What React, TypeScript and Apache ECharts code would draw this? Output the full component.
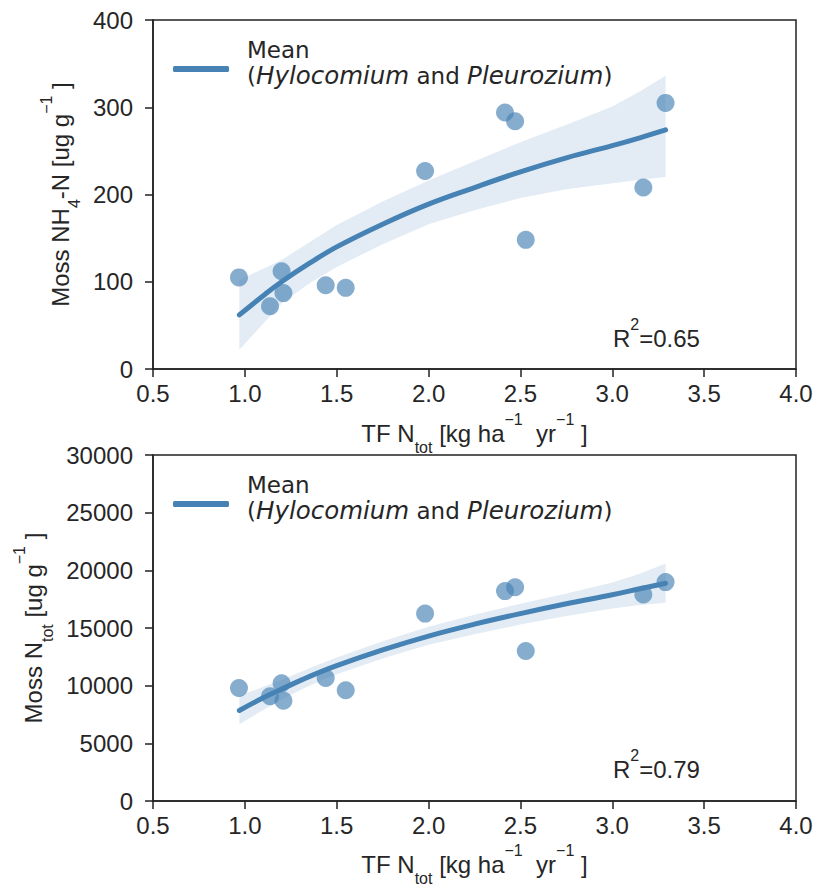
import React, { useEffect, useRef } from "react";
import * as echarts from "echarts";

// Measured data (same TF N_tot x values for both panels)
const tfNtot = [0.968, 1.137, 1.2, 1.21, 1.44, 1.549, 1.981, 2.416, 2.471, 2.529, 3.169, 3.29];
const mossNH4 = [105, 72, 112, 87, 96, 93, 227, 294, 284, 148, 208, 305];
const mossNtot = [9800, 9080, 10200, 8700, 10660, 9600, 16250, 18200, 18540, 13000, 17910, 18980];

// Fitted mean curves and confidence bands
const fitX = [0.97, 1.1, 1.2, 1.35, 1.5, 1.75, 2.0, 2.25, 2.5, 2.75, 3.0, 3.15, 3.29];
const fitNH4 = [62, 84, 100, 121, 140, 166, 189, 208, 226, 242, 256, 265, 274];
const upperNH4 = [102, 115, 125, 145, 165, 192, 216, 238, 260, 280, 301, 318, 336];
const lowerNH4 = [22, 52, 75, 98, 117, 143, 166, 182, 196, 206, 213, 217, 220];
const fitNtot = [7850, 8950, 9700, 10780, 11730, 13100, 14300, 15330, 16250, 17100, 17880, 18400, 18880];
const upperNtot = [9100, 9900, 10500, 11500, 12450, 13850, 15100, 16150, 17100, 18000, 18950, 19700, 20600];
const lowerNtot = [6650, 7900, 8800, 10000, 11000, 12350, 13550, 14450, 15300, 16050, 16700, 17000, 17200];

const r2Top = "0.65";
const r2Bottom = "0.79";

const LINE = "#4682b4";
const DOT = "rgba(70,130,180,0.82)";
const BAND = "rgba(70,130,180,0.15)";
const INK = "#262626";
const AXIS = "#222";
const SANS = "'Liberation Sans', Arial, sans-serif";
const DEJAVU = "'DejaVu Sans', sans-serif";

const richSubSup = {
  sub: { fontSize: 16, lineHeight: 30, verticalAlign: "bottom", fontFamily: SANS, color: INK },
  sup: { fontSize: 16, lineHeight: 16, verticalAlign: "top", fontFamily: SANS, color: INK },
};

const nameStyle = {
  fontSize: 24,
  lineHeight: 44,
  fontFamily: SANS,
  color: INK,
  rich: richSubSup,
};

function xAxisFor(gridIndex: number, gap: number) {
  return {
    type: "value",
    gridIndex,
    min: 0.5,
    max: 4.0,
    interval: 0.5,
    name: "TF N{sub|tot} [kg ha{sup|−1}  yr{sup|−1} ]",
    nameLocation: "middle",
    nameGap: gap,
    nameTextStyle: nameStyle,
    axisLine: { show: true, onZero: false, lineStyle: { color: AXIS, width: 1.5 } },
    axisTick: { show: true, length: 8, lineStyle: { color: AXIS, width: 1.5 } },
    axisLabel: {
      fontSize: 24,
      fontFamily: SANS,
      color: INK,
      margin: 12,
      formatter: (v: number) => v.toFixed(1),
    },
    splitLine: { show: false },
  };
}

function yAxisFor(gridIndex: number, max: number, interval: number, name: string, gap: number) {
  return {
    type: "value",
    gridIndex,
    min: 0,
    max,
    interval,
    name,
    nameLocation: "middle",
    nameRotate: 90,
    nameGap: gap,
    nameTextStyle: nameStyle,
    axisLine: { show: true, onZero: false, lineStyle: { color: AXIS, width: 1.5 } },
    axisTick: { show: true, length: 8, lineStyle: { color: AXIS, width: 1.5 } },
    axisLabel: {
      fontSize: 24,
      fontFamily: SANS,
      color: INK,
      margin: 20,
      formatter: (v: number) => String(v),
    },
    splitLine: { show: false },
  };
}

function bandSeries(idx: number, upper: number[], lower: number[]) {
  return {
    type: "custom",
    xAxisIndex: idx,
    yAxisIndex: idx,
    silent: true,
    z: 1,
    data: [[fitX[0], lower[0]]],
    renderItem: (_params: any, api: any) => {
      const pts: number[][] = [];
      for (let i = 0; i < fitX.length; i++) pts.push(api.coord([fitX[i], upper[i]]));
      for (let i = fitX.length - 1; i >= 0; i--) pts.push(api.coord([fitX[i], lower[i]]));
      return { type: "polygon", shape: { points: pts }, style: { fill: BAND } };
    },
  };
}

function scatterSeries(idx: number, ys: number[]) {
  return {
    type: "scatter",
    xAxisIndex: idx,
    yAxisIndex: idx,
    symbolSize: 18,
    z: 2,
    itemStyle: { color: DOT },
    data: tfNtot.map((x, i) => [x, ys[i]]),
  };
}

function lineSeries(idx: number, ys: number[]) {
  return {
    type: "line",
    name: "Mean",
    xAxisIndex: idx,
    yAxisIndex: idx,
    smooth: 0.4,
    showSymbol: false,
    z: 3,
    lineStyle: { color: LINE, width: 5, cap: "round" },
    itemStyle: { color: LINE },
    data: fitX.map((x, i) => [x, ys[i]]),
  };
}

function legendFor(top: number) {
  return {
    data: ["Mean"],
    left: 173,
    top,
    padding: 0,
    icon: "roundRect",
    itemWidth: 56,
    itemHeight: 6,
    selectedMode: false,
    formatter: () => "{n|Mean}\n({i|Hylocomium} and {i|Pleurozium})",
    textStyle: {
      fontFamily: DEJAVU,
      fontSize: 23,
      lineHeight: 25.5,
      color: INK,
      padding: [0, 0, 12, 13],
      rich: {
        n: { fontFamily: DEJAVU, fontSize: 23, lineHeight: 25.5, color: INK },
        i: { fontFamily: DEJAVU, fontSize: 24.5, lineHeight: 25.5, color: INK, fontStyle: "italic" },
      },
    },
  };
}

function r2Text(top: number, value: string) {
  return {
    type: "text",
    left: 613,
    top,
    style: {
      text: "R{sup|2}=" + value,
      fontSize: 24,
      lineHeight: 44,
      fontFamily: SANS,
      fill: INK,
      rich: {
        sup: { fontSize: 16, lineHeight: 16, verticalAlign: "top", fontFamily: SANS, fill: INK },
      },
    },
  };
}

export default function App() {
  const ref = useRef<HTMLDivElement>(null);
  useEffect(() => {
    document.body.style.margin = "0";
    if (!ref.current) return;
    const chart = echarts.init(ref.current, null, { renderer: "svg" });
    const option: any = {
      animation: false,
      backgroundColor: "#fff",
      grid: [
        { left: 153, top: 20, width: 643, height: 349, show: true, borderColor: AXIS, borderWidth: 1.5, backgroundColor: "transparent" },
        { left: 153, top: 455, width: 643, height: 349, show: true, borderColor: AXIS, borderWidth: 1.5, backgroundColor: "transparent" },
      ],
      xAxis: [xAxisFor(0, 42), xAxisFor(1, 41)],
      yAxis: [
        yAxisFor(0, 400, 100, "Moss NH{sub|4}-N [ug g{sup|−1} ]", 64),
        yAxisFor(1, 30000, 5000, "Moss N{sub|tot} [ug g{sup|−1} ]", 97),
      ],
      legend: [legendFor(37.5), legendFor(472.5)],
      series: [
        bandSeries(0, upperNH4, lowerNH4),
        scatterSeries(0, mossNH4),
        lineSeries(0, fitNH4),
        bandSeries(1, upperNtot, lowerNtot),
        scatterSeries(1, mossNtot),
        lineSeries(1, fitNtot),
      ],
      graphic: [r2Text(316, r2Top), r2Text(747, r2Bottom)],
    };
    chart.setOption(option);
    return () => chart.dispose();
  }, []);
  return <div ref={ref} style={{ width: 817, height: 887 }} />;
}
